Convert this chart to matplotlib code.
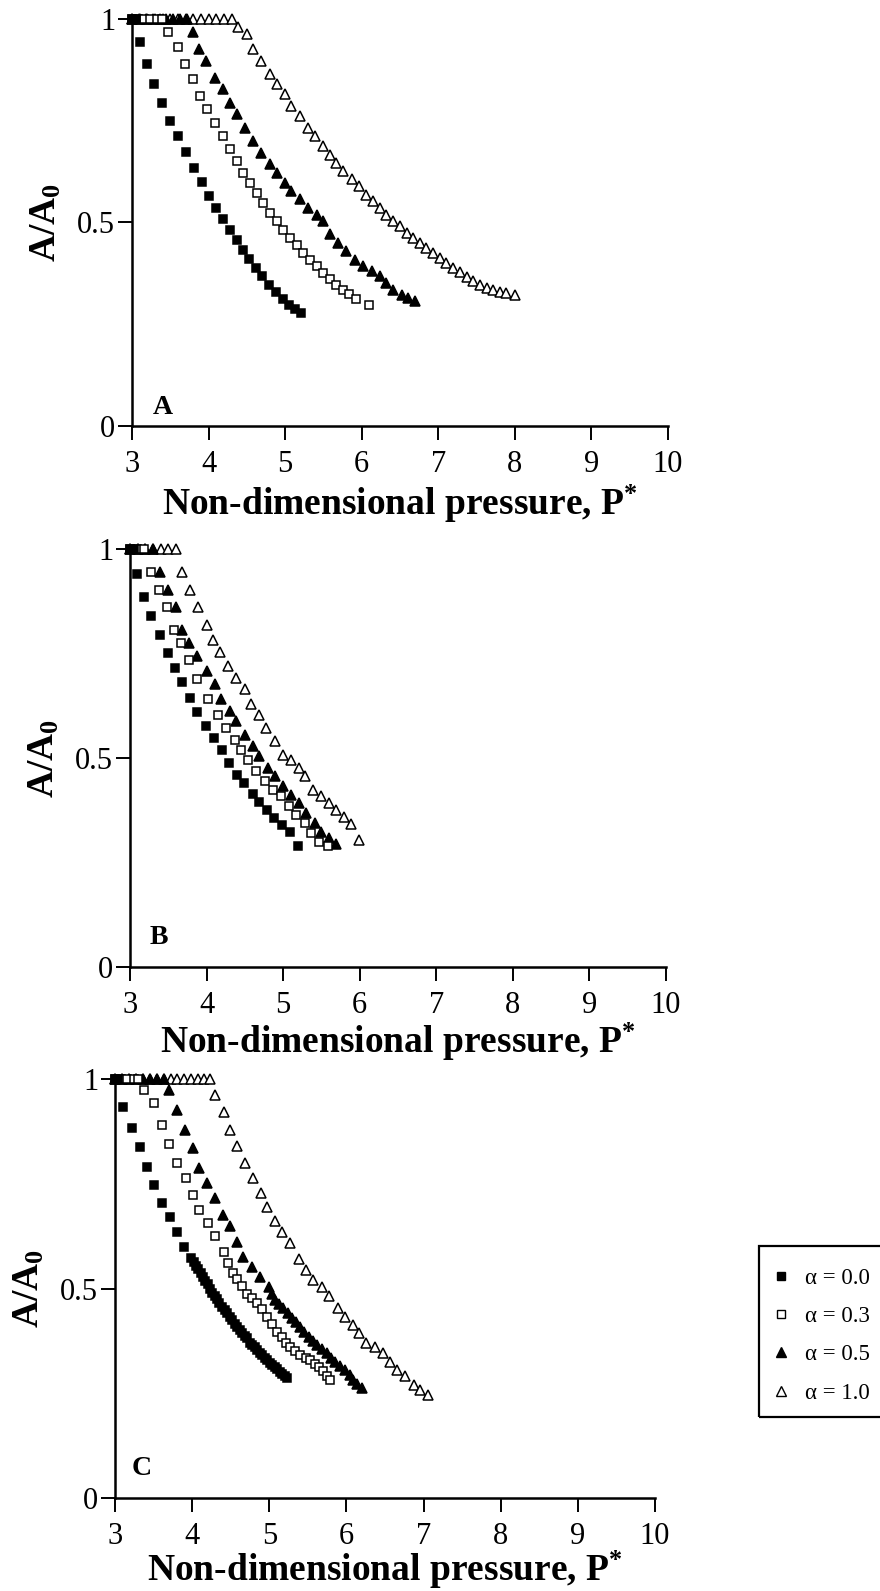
import matplotlib
matplotlib.use('Agg')
import matplotlib.pyplot as plt
from matplotlib.lines import Line2D
from matplotlib.patches import Rectangle

plt.rcParams['font.family'] = ['Liberation Serif', 'DejaVu Serif']
plt.rcParams['mathtext.fontset'] = 'custom'
plt.rcParams['mathtext.rm'] = 'Liberation Serif'
plt.rcParams['mathtext.bf'] = 'Liberation Serif:bold'
plt.rcParams['mathtext.it'] = 'Liberation Serif:italic'

# ---------------- data ----------------
alpha_labels = ['α = 0.0', 'α = 0.3', 'α = 0.5', 'α = 1.0']
x_ticks = [3, 4, 5, 6, 7, 8, 9, 10]
y_ticks = [0, 0.5, 1]
y_ticklabels = ['0', '0.5', '1']
panel_letters = ['A', 'B', 'C']
x_label = 'Non-dimensional pressure, P$^{\\mathbf{*}}$'
y_label = '$\\mathbf{A/A}_{\\mathbf{0}}$'

# Panel A
a0_x = [3.00, 3.05, 3.10, 3.20, 3.29, 3.39, 3.50, 3.60, 3.70, 3.81, 3.91, 4.00, 4.10, 4.19,
        4.28, 4.37, 4.45, 4.53, 4.62, 4.70, 4.79, 4.88, 4.97, 5.05, 5.13, 5.21]
a0_y = [1.00, 1.00, 0.943, 0.888, 0.839, 0.792, 0.748, 0.711, 0.672, 0.634, 0.599, 0.564, 0.535, 0.507,
        0.482, 0.457, 0.433, 0.410, 0.388, 0.367, 0.347, 0.328, 0.312, 0.298, 0.287, 0.277]
a3_x = [3.00, 3.08, 3.16, 3.24, 3.32, 3.39, 3.47, 3.60, 3.69, 3.80, 3.89, 3.98, 4.08, 4.19, 4.28,
        4.37, 4.45, 4.54, 4.63, 4.71, 4.80, 4.89, 4.97, 5.06, 5.15, 5.23, 5.32, 5.41, 5.50, 5.58,
        5.67, 5.76, 5.84, 5.93, 6.10]
a3_y = [1.00, 1.00, 1.00, 1.00, 1.00, 1.00, 0.966, 0.929, 0.888, 0.851, 0.810, 0.777, 0.743, 0.711, 0.679,
        0.650, 0.621, 0.597, 0.572, 0.548, 0.523, 0.502, 0.482, 0.461, 0.443, 0.425, 0.408, 0.392, 0.375, 0.361,
        0.347, 0.334, 0.324, 0.311, 0.296]
a5_x = [3.00, 3.09, 3.18, 3.27, 3.36, 3.45, 3.54, 3.63, 3.72, 3.80, 3.88, 3.97, 4.08, 4.19, 4.28,
        4.37, 4.47, 4.58, 4.69, 4.80, 4.90, 5.00, 5.08, 5.19, 5.30, 5.41, 5.50, 5.58, 5.69, 5.80,
        5.91, 6.02, 6.13, 6.24, 6.32, 6.41, 6.52, 6.60, 6.69]
a5_y = [1.00, 1.00, 1.00, 1.00, 1.00, 1.00, 1.00, 1.00, 1.00, 0.966, 0.926, 0.896, 0.855, 0.826, 0.793,
        0.765, 0.732, 0.699, 0.670, 0.642, 0.620, 0.597, 0.576, 0.556, 0.535, 0.519, 0.502, 0.470, 0.449, 0.429,
        0.408, 0.392, 0.380, 0.367, 0.351, 0.334, 0.322, 0.314, 0.306]
a10_x = [3.00, 3.10, 3.20, 3.30, 3.40, 3.50, 3.60, 3.70, 3.80, 3.90, 4.00, 4.10, 4.20, 4.30, 4.39,
         4.50, 4.58, 4.69, 4.80, 4.89, 5.00, 5.08, 5.19, 5.30, 5.39, 5.50, 5.58, 5.67, 5.76, 5.87,
         5.96, 6.06, 6.15, 6.24, 6.32, 6.41, 6.50, 6.59, 6.67, 6.76, 6.84, 6.93, 7.02, 7.10, 7.19,
         7.28, 7.37, 7.45, 7.54, 7.63, 7.71, 7.80, 7.89, 8.00]
a10_y = [1.00, 1.00, 1.00, 1.00, 1.00, 1.00, 1.00, 1.00, 1.00, 1.00, 1.00, 1.00, 1.00, 1.00, 0.980,
         0.961, 0.925, 0.896, 0.863, 0.839, 0.814, 0.785, 0.761, 0.732, 0.711, 0.687, 0.666, 0.646, 0.625, 0.605,
         0.588, 0.568, 0.552, 0.535, 0.519, 0.502, 0.490, 0.474, 0.461, 0.449, 0.437, 0.425, 0.412, 0.400, 0.388,
         0.377, 0.366, 0.355, 0.347, 0.339, 0.333, 0.328, 0.326, 0.322]

# Panel B
b0_x = [3.00, 3.05, 3.09, 3.18, 3.27, 3.39, 3.49, 3.59, 3.68, 3.78, 3.88, 3.99, 4.10, 4.20,
        4.29, 4.40, 4.49, 4.60, 4.68, 4.79, 4.88, 4.99, 5.09, 5.20]
b0_y = [1.00, 1.00, 0.940, 0.886, 0.840, 0.794, 0.752, 0.716, 0.681, 0.643, 0.611, 0.576, 0.547, 0.519,
        0.487, 0.459, 0.439, 0.415, 0.395, 0.376, 0.356, 0.340, 0.324, 0.290]
b3_x = [3.00, 3.09, 3.18, 3.27, 3.38, 3.48, 3.58, 3.66, 3.77, 3.88, 4.02, 4.15, 4.26, 4.37, 4.45,
        4.54, 4.65, 4.76, 4.87, 4.97, 5.08, 5.17, 5.28, 5.36, 5.47, 5.58]
b3_y = [1.00, 1.00, 1.00, 0.946, 0.902, 0.862, 0.806, 0.774, 0.734, 0.690, 0.640, 0.604, 0.572, 0.544, 0.520,
        0.496, 0.468, 0.444, 0.424, 0.408, 0.384, 0.364, 0.345, 0.321, 0.300, 0.290]
b5_x = [3.00, 3.10, 3.20, 3.30, 3.39, 3.49, 3.60, 3.68, 3.77, 3.88, 4.00, 4.11, 4.19, 4.30, 4.39,
        4.50, 4.61, 4.69, 4.80, 4.89, 5.00, 5.10, 5.21, 5.30, 5.41, 5.49, 5.60, 5.69]
b5_y = [1.00, 1.00, 1.00, 1.00, 0.946, 0.902, 0.862, 0.806, 0.774, 0.745, 0.708, 0.676, 0.640, 0.612, 0.588,
        0.556, 0.528, 0.504, 0.476, 0.456, 0.432, 0.412, 0.392, 0.368, 0.345, 0.324, 0.308, 0.295]
b10_x = [3.00, 3.10, 3.20, 3.30, 3.40, 3.50, 3.60, 3.68, 3.78, 3.89, 4.00, 4.09, 4.18, 4.28, 4.39,
         4.50, 4.58, 4.69, 4.78, 4.89, 5.00, 5.10, 5.21, 5.28, 5.39, 5.49, 5.60, 5.69, 5.80, 5.88, 5.99]
b10_y = [1.00, 1.00, 1.00, 1.00, 1.00, 1.00, 1.00, 0.946, 0.902, 0.862, 0.818, 0.782, 0.754, 0.720, 0.692,
         0.664, 0.628, 0.604, 0.572, 0.540, 0.508, 0.496, 0.476, 0.456, 0.424, 0.408, 0.392, 0.376, 0.360, 0.341, 0.305]

# Panel C
c0_x = [3.00, 3.04, 3.10, 3.22, 3.32, 3.41, 3.51, 3.61, 3.71, 3.81, 3.90,
        3.99, 4.02, 4.05, 4.08, 4.11, 4.14, 4.17, 4.20, 4.23, 4.26, 4.29, 4.32, 4.35, 4.39,
        4.42, 4.45, 4.49, 4.52, 4.55, 4.58, 4.62, 4.65, 4.68, 4.71, 4.75, 4.78, 4.81, 4.84,
        4.88, 4.91, 4.94, 4.97, 5.01, 5.04, 5.07, 5.10, 5.14, 5.17, 5.20, 5.23]
c0_y = [1.00, 1.00, 0.934, 0.882, 0.837, 0.791, 0.748, 0.705, 0.671, 0.636, 0.600,
        0.572, 0.564, 0.553, 0.547, 0.537, 0.527, 0.518, 0.510, 0.500, 0.489, 0.481, 0.474, 0.465, 0.457,
        0.449, 0.442, 0.432, 0.425, 0.416, 0.409, 0.400, 0.394, 0.387, 0.381, 0.371, 0.365, 0.360, 0.353,
        0.345, 0.341, 0.334, 0.329, 0.322, 0.318, 0.313, 0.308, 0.301, 0.297, 0.292, 0.287]
c3_x = [3.00, 3.08, 3.16, 3.24, 3.30, 3.37, 3.50, 3.61, 3.70, 3.81, 3.92, 4.01, 4.09, 4.20, 4.30,
        4.41, 4.47, 4.53, 4.58, 4.64, 4.71, 4.77, 4.84, 4.90, 4.97, 5.03, 5.10, 5.16, 5.22, 5.27,
        5.33, 5.40, 5.47, 5.53, 5.59, 5.64, 5.70, 5.75, 5.79]
c3_y = [1.00, 1.00, 1.00, 1.00, 1.00, 0.974, 0.942, 0.890, 0.846, 0.800, 0.763, 0.723, 0.687, 0.656, 0.625,
        0.588, 0.560, 0.536, 0.522, 0.506, 0.488, 0.477, 0.465, 0.451, 0.433, 0.415, 0.397, 0.385, 0.371, 0.361,
        0.350, 0.341, 0.335, 0.329, 0.320, 0.313, 0.302, 0.291, 0.282]
c5_x = [3.00, 3.09, 3.18, 3.27, 3.36, 3.45, 3.54, 3.63, 3.70, 3.80, 3.91, 4.01, 4.09, 4.19, 4.30,
        4.40, 4.49, 4.58, 4.66, 4.77, 4.88, 4.99, 5.04, 5.08, 5.13, 5.18, 5.24, 5.29, 5.35, 5.40,
        5.45, 5.51, 5.57, 5.62, 5.68, 5.75, 5.80, 5.85, 5.92, 5.98, 6.04, 6.09, 6.14, 6.20]
c5_y = [1.00, 1.00, 1.00, 1.00, 1.00, 1.00, 1.00, 1.00, 0.974, 0.926, 0.878, 0.835, 0.787, 0.751, 0.715,
        0.675, 0.648, 0.612, 0.576, 0.552, 0.528, 0.504, 0.488, 0.473, 0.463, 0.453, 0.441, 0.429, 0.419, 0.409,
        0.397, 0.385, 0.375, 0.365, 0.355, 0.345, 0.335, 0.325, 0.315, 0.305, 0.293, 0.282, 0.272, 0.262]
c10_x = [3.00, 3.09, 3.18, 3.27, 3.36, 3.45, 3.54, 3.63, 3.72, 3.81, 3.90, 3.99, 4.07, 4.15, 4.23,
         4.30, 4.41, 4.49, 4.58, 4.69, 4.79, 4.89, 4.97, 5.08, 5.16, 5.27, 5.39, 5.48, 5.57, 5.68,
         5.78, 5.89, 5.98, 6.09, 6.16, 6.26, 6.37, 6.48, 6.57, 6.65, 6.76, 6.87, 6.96, 7.06]
c10_y = [1.00, 1.00, 1.00, 1.00, 1.00, 1.00, 1.00, 1.00, 1.00, 1.00, 1.00, 1.00, 1.00, 1.00, 1.00,
         0.962, 0.922, 0.878, 0.839, 0.799, 0.763, 0.727, 0.695, 0.660, 0.636, 0.608, 0.570, 0.544, 0.520, 0.504,
         0.481, 0.453, 0.433, 0.413, 0.393, 0.369, 0.361, 0.345, 0.325, 0.305, 0.290, 0.270, 0.258, 0.246]

panels = [
    [(a0_x, a0_y), (a3_x, a3_y), (a5_x, a5_y), (a10_x, a10_y)],
    [(b0_x, b0_y), (b3_x, b3_y), (b5_x, b5_y), (b10_x, b10_y)],
    [(c0_x, c0_y), (c3_x, c3_y), (c5_x, c5_y), (c10_x, c10_y)],
]

# ---------------- styles ----------------
W, H = 880, 1591
styles = [dict(marker='s', ms=6.3, mfc='black'),
          dict(marker='s', ms=6.3, mfc='white'),
          dict(marker='^', ms=7.3, mfc='black'),
          dict(marker='^', ms=7.3, mfc='white')]

# axes rectangles in pixels: (left, right, top(y=1), bottom(y=0))
rects_px = [(132, 668, 18.5, 426), (130, 666, 549, 967), (115, 655, 1079, 1498)]
# x-label vertical anchor in pixels and its vertical alignment
xlabel_px = [(504, 'center'), (1042, 'center'), (1581, 'baseline')]
letter_pos = [(3.40, 0.045), (3.37, 0.07), (3.35, 0.07)]

fig = plt.figure(figsize=(W / 100, H / 100), dpi=100)

for i, (l, r, t, b) in enumerate(rects_px):
    ax = fig.add_axes([l / W, 1 - b / H, (r - l) / W, (b - t) / H])
    # draw highest alpha first so lower-alpha markers sit on top (as in the original)
    for k in range(3, -1, -1):
        xs, ys = panels[i][k]
        ax.plot(xs, ys, linestyle='none', mec='black', mew=1.1, clip_on=False,
                zorder=3 + (3 - k) * 0.1, **styles[k])
    ax.set_xlim(3, 10)
    ax.set_ylim(0, 1)
    ax.set_xticks(x_ticks)
    ax.set_yticks(y_ticks)
    ax.set_yticklabels(y_ticklabels)
    for s in ['top', 'right']:
        ax.spines[s].set_visible(False)
    for s in ['left', 'bottom']:
        ax.spines[s].set_linewidth(1.8)
    ax.tick_params(axis='both', direction='out', length=10, width=1.4, labelsize=22)
    ax.tick_params(axis='x', pad=7)
    ax.tick_params(axis='y', pad=2)
    ax.set_xlabel(x_label, fontsize=27, fontweight='bold')
    ypx, va = xlabel_px[i]
    ax.xaxis.set_label_coords(0.5, (b - ypx) / (b - t))
    ax.xaxis.label.set_va(va)
    ax.set_ylabel(y_label, fontsize=27)
    ax.yaxis.set_label_coords(-86 / (r - l), 0.5)
    ax.yaxis.label.set_va('center')
    lx, ly = letter_pos[i]
    ax.text(lx, ly, panel_letters[i], fontsize=20, fontweight='bold', ha='center', va='center')

# legend: entries without frame, box drawn as a rectangle that runs past the right edge
handles = [Line2D([], [], linestyle='none', mec='black', mew=1.0,
                  marker=st['marker'], ms=st['ms'] - 0.8, mfc=st['mfc']) for st in styles]
leg = fig.legend(handles, alpha_labels, loc='upper left',
                 bbox_to_anchor=(770 / W, 1 - 1268 / H), bbox_transform=fig.transFigure,
                 frameon=False, fontsize=16.5, handlelength=1.0, handletextpad=0.53,
                 labelspacing=0.75, borderpad=0, borderaxespad=0)
fig.add_artist(Rectangle((759 / W, 1 - 1417 / H), 160 / W, 171 / H, transform=fig.transFigure,
                         fill=False, edgecolor='black', linewidth=1.6, clip_on=False))

fig.savefig('out.png', dpi=100)
